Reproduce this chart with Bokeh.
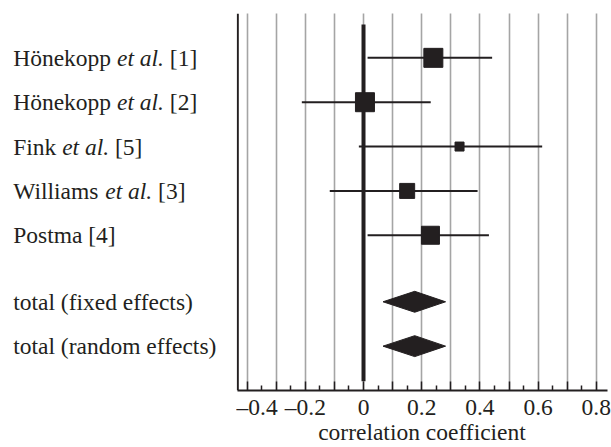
from bokeh.plotting import figure
from bokeh.models import Range1d, FixedTicker, ColumnDataSource, Span
from bokeh.layouts import row
from bokeh.core.properties import value
from bokeh.embed import file_html
from bokeh.resources import INLINE

# ---- data ----
study_name = ["Hönekopp", "Hönekopp", "Fink", "Williams", "Postma"]
study_italic = ["et al.", "et al.", "et al.", "et al.", ""]
study_ref = ["[1]", "[2]", "[5]", "[3]", "[4]"]
study_y = [6.5, 5.5, 4.5, 3.5, 2.5]
estimate = [0.24, 0.005, 0.33, 0.15, 0.23]
ci_lower = [0.014, -0.212, -0.016, -0.116, 0.014]
ci_upper = [0.442, 0.231, 0.614, 0.392, 0.431]

total_label = ["total (fixed effects)", "total (random effects)"]
total_y = [1.0, 0.0]
total_est = [0.176, 0.176]
total_lower = [0.067, 0.067]
total_upper = [0.282, 0.282]

tick_values = [-0.4, -0.3, -0.2, -0.1, 0.0, 0.1, 0.2, 0.3, 0.4, 0.5, 0.6, 0.7, 0.8]
tick_labels = ["–0.4", "", "–0.2", "", "0", "", "0.2", "", "0.4", "", "0.6", "", "0.8"]
minor_tick_values = [-0.35, -0.25, -0.15, -0.05, 0.05, 0.15, 0.25, 0.35, 0.45, 0.55, 0.65, 0.75]
x_title = "correlation coefficient"

# ---- styles ----
box_size = [19, 19, 9, 15, 18]
INK = "#231f20"
FONT = "Liberation Serif"
FS = 23.5
H = 447
LEFT_W = 236
MAIN_W = 375
LABEL_X = 12.7
DIAMOND_HALF = 0.236
REG_W = {"H": 0.722, "ö": 0.5, "n": 0.5, "e": 0.444, "k": 0.5, "o": 0.5, "p": 0.5, " ": 0.25,
         "F": 0.556, "i": 0.278, "W": 0.944, "l": 0.278, "a": 0.444, "m": 0.778, "s": 0.389,
         "P": 0.556, "t": 0.278}
ITA_W = {"e": 0.444, "t": 0.278, " ": 0.25, "a": 0.5, "l": 0.278, ".": 0.25}


def width(s, table):
    return sum(table.get(c, 0.5) for c in s) * FS


y_range = Range1d(-1.0, 7.5)


def style_xaxis(ax, hidden=False):
    ax.axis_line_width = 2
    ax.major_tick_line_width = 1.5
    ax.minor_tick_line_width = 1.5
    ax.major_tick_in = 9
    ax.major_tick_out = 0
    ax.minor_tick_in = 5
    ax.minor_tick_out = 0
    ax.major_label_text_font = FONT
    ax.major_label_text_font_size = f"{FS}px"
    ax.major_label_standoff = 3
    ax.axis_label = x_title
    ax.axis_label_text_font = FONT
    ax.axis_label_text_font_size = f"{FS}px"
    ax.axis_label_text_font_style = "normal"
    ax.axis_label_standoff = -4
    if hidden:
        ax.axis_line_color = None
        ax.major_tick_line_color = None
        ax.minor_tick_line_color = None
        ax.major_label_text_alpha = 0
        ax.axis_label_text_alpha = 0
    else:
        ax.axis_line_color = INK
        ax.major_tick_line_color = INK
        ax.minor_tick_line_color = INK
        ax.major_label_text_color = INK
        ax.axis_label_text_color = INK


# ================= main plot =================
p = figure(width=MAIN_W, height=H, output_backend="svg", toolbar_location=None,
           x_range=Range1d(-0.4365, 0.8385), y_range=y_range,
           min_border_left=0, min_border_right=4, min_border_top=13, min_border_bottom=0)
p.outline_line_color = None
p.yaxis.visible = False
p.ygrid.visible = False
p.xgrid.ticker = FixedTicker(ticks=tick_values)
p.xgrid.grid_line_color = "#4d4d4d"
p.xgrid.grid_line_dash = "1 1"
p.xgrid.grid_line_width = 1.6

xa = p.xaxis[0]
xa.ticker = FixedTicker(ticks=tick_values, minor_ticks=minor_tick_values)
xa.major_label_overrides = {v: l for v, l in zip(tick_values, tick_labels)}
xa.bounds = (-0.433, 0.8385)
style_xaxis(xa)

# left axis line
p.add_layout(Span(location=-0.432, dimension="height", line_color=INK, line_width=2))

# zero line
p.segment(x0=[0.0], y0=[-0.79], x1=[0.0], y1=[7.25], line_color=INK, line_width=4)

# confidence intervals and boxes
p.segment(x0=ci_lower, y0=study_y, x1=ci_upper, y1=study_y, line_color=INK, line_width=2)
p.scatter(x=estimate, y=study_y, size=box_size, marker="square",
          fill_color=INK, line_color=INK, line_width=1)

# diamonds
xs = [[lo, est, hi, est] for lo, est, hi in zip(total_lower, total_est, total_upper)]
ys = [[y, y + DIAMOND_HALF, y, y - DIAMOND_HALF] for y in total_y]
p.patches(xs=xs, ys=ys, fill_color=INK, line_color=INK, line_width=1)

# ================= label column =================
q = figure(width=LEFT_W, height=H, output_backend="svg", toolbar_location=None,
           x_range=Range1d(0, LEFT_W), y_range=y_range,
           min_border_left=0, min_border_right=0, min_border_top=13, min_border_bottom=0)
q.outline_line_color = None
q.yaxis.visible = False
q.xgrid.visible = False
q.ygrid.visible = False
qa = q.xaxis[0]
qa.ticker = FixedTicker(ticks=[LEFT_W / 2])
qa.major_label_overrides = {LEFT_W / 2: tick_labels[-1]}
style_xaxis(qa, hidden=True)

txt, tx, ty, toff, tstyle = [], [], [], [], []
for name, ital, ref, y in zip(study_name, study_italic, study_ref, study_y):
    if ital:
        w1 = width(name + " ", REG_W)
        w2 = width(ital + " ", ITA_W)
        for s, off, st in [(name, 0, "normal"), (ital, w1, "italic"), (ref, w1 + w2, "normal")]:
            txt.append(s); tx.append(LABEL_X); ty.append(y); toff.append(off); tstyle.append(st)
    else:
        txt.append(name + " " + ref); tx.append(LABEL_X); ty.append(y); toff.append(0); tstyle.append("normal")
for lab, y in zip(total_label, total_y):
    txt.append(lab); tx.append(LABEL_X); ty.append(y); toff.append(0); tstyle.append("normal")

src = ColumnDataSource(dict(x=tx, y=ty, text=txt, off=toff, style=tstyle))
q.text(x="x", y="y", text="text", x_offset="off", text_font_style="style", source=src,
       text_font=value(FONT), text_font_size=value(f"{FS}px"), text_color=INK,
       text_baseline="middle", text_align="left")

layout = row(q, p, spacing=0)
open("out.html", "w").write(file_html(layout, INLINE))
